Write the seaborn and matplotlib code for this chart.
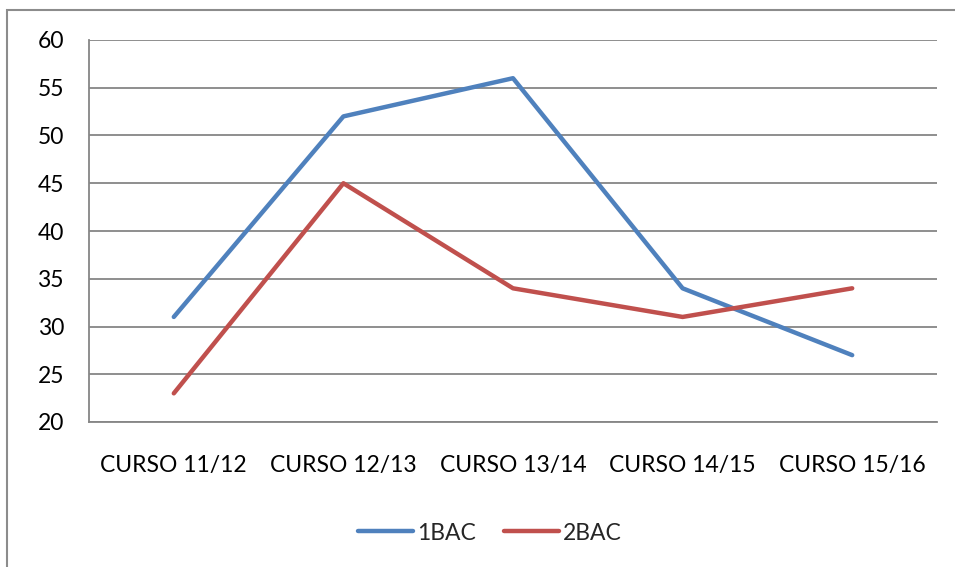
import matplotlib
matplotlib.use("Agg")
import matplotlib.pyplot as plt
import seaborn as sns
import pandas as pd
import numpy as np
from matplotlib.patches import Rectangle
from matplotlib.lines import Line2D

categories = ["CURSO 11/12", "CURSO 12/13", "CURSO 13/14", "CURSO 14/15", "CURSO 15/16"]
series_names = ["1BAC", "2BAC"]
bac1 = [31, 52, 56, 34, 27]
bac2 = [23, 45, 34, 31, 34]
y_ticks = [20, 25, 30, 35, 40, 45, 50, 55, 60]

colors = {"1BAC": "#4F81BD", "2BAC": "#C0504D"}

df = pd.DataFrame({
    "x": list(range(len(categories))) * 2,
    "value": bac1 + bac2,
    "serie": ["1BAC"] * len(bac1) + ["2BAC"] * len(bac2),
})

sns.set_theme(style="white")
plt.rcParams["font.family"] = ["Lato", "DejaVu Sans"]

FS = 16.5
W, H = 955, 567
fig = plt.figure(figsize=(W / 100, H / 100), dpi=100)
ax = fig.add_axes([89 / W, (H - 422) / H, (937 - 89) / W, (422 - 40) / H])

sns.lineplot(data=df, x="x", y="value", hue="serie", palette=colors, sort=False,
             linewidth=3.2, legend=False, ax=ax, zorder=3)

grid_c = "#868686"
ax.set_ylim(20, 60)
ax.set_xlim(-0.5, len(categories) - 0.5)
ax.set_yticks(y_ticks)
ax.set_yticklabels([str(v) for v in y_ticks], fontsize=FS, color="black")
ax.set_xticks(range(len(categories)))
ax.set_xticklabels(categories, fontsize=FS, color="black")
ax.set_xticks(np.arange(-0.5, len(categories), 1.0), minor=True)
ax.tick_params(axis="x", which="major", length=0, pad=24)
ax.tick_params(axis="x", which="minor", length=7, width=1.3, color=grid_c, direction="out")
ax.tick_params(axis="y", which="major", length=7, width=1.3, color=grid_c, direction="out", pad=11)
ax.set_xlabel("")
ax.set_ylabel("")
ax.grid(axis="y", color=grid_c, linewidth=1.3)
ax.set_axisbelow(True)
for s in ["top", "right"]:
    ax.spines[s].set_visible(False)
for s in ["left", "bottom"]:
    ax.spines[s].set_color(grid_c)
    ax.spines[s].set_linewidth(1.3)

# outer frame
fig.patches.append(Rectangle((7 / W, -0.1), 1.2, (H - 10) / H + 0.1, transform=fig.transFigure,
                             fill=False, edgecolor="#8C8C8C", linewidth=1.5))

handles = [Line2D([0], [0], color=colors[n], linewidth=3.2, solid_capstyle="round") for n in series_names]
fig.legend(handles, series_names, loc="center", bbox_to_anchor=(490 / W, (H - 533) / H),
           ncol=2, frameon=False, fontsize=FS, handlelength=2.4, handletextpad=0.2,
           columnspacing=1.2)

fig.savefig("out.png", dpi=100)
